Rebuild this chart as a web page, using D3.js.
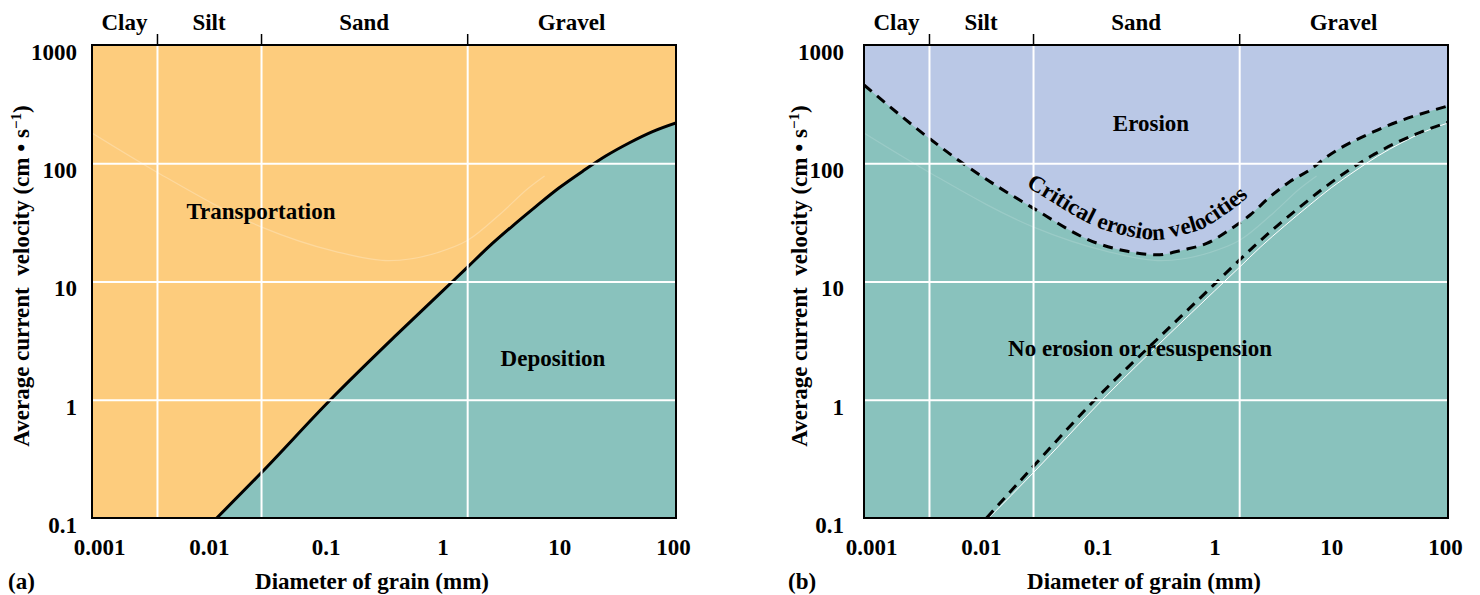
<!DOCTYPE html>
<html><head><meta charset="utf-8">
<script src="https://cdn.jsdelivr.net/npm/d3@7"></script>
<style>
body{margin:0;background:#fff;}
svg text{font-family:"Liberation Serif","Times New Roman",serif;font-weight:bold;fill:#000;font-size:23px;}
</style></head><body>
<svg id="chart" width="1480" height="595"></svg>
<script>
// ---------- data ----------
const grainCategories = ["Clay", "Silt", "Sand", "Gravel"];
const grainBoundaries = [0.0036, 0.028, 1.63];          // mm
const xTickValues = [0.001, 0.01, 0.1, 1, 10, 100];
const xTickLabels = ["0.001", "0.01", "0.1", "1", "10", "100"];
const yTickValues = [0.1, 1, 10, 100, 1000];
const yTickLabels = ["0.1", "1", "10", "100", "1000"];
const yGridValues = [1, 10, 100];

// deposition curve (panel a solid line, panel b thin white line)
const depositionDiameter = [0.0117, 0.028, 0.11, 0.4, 1, 1.6, 2.5, 4, 6.3, 10, 16, 25, 40, 63, 100];
const depositionVelocity = [0.1, 0.24, 1, 3.5, 8.3, 12.9, 19.7, 29.6, 43, 62, 86, 115, 149, 185, 219];
// panel b lower dashed curve
const settlingDiameter = [0.0112, 0.025, 0.095, 0.35, 0.87, 1.38, 2.17, 3.45, 5.45, 8.7, 13.8, 22, 36, 60, 100];
const settlingVelocity = [0.1, 0.24, 1, 3.5, 8.3, 12.9, 19.7, 29.6, 43, 62, 86, 115, 149, 185, 222];
// critical erosion velocities (panel b upper dashed)
const erosionDiameter = [0.001, 0.0036, 0.007, 0.0267, 0.1, 0.18, 0.321, 0.542, 0.859, 1.41, 2.02, 2.99, 4.44, 6.58, 9.14, 24.9, 100];
const erosionVelocity = [459, 163, 100, 43, 21, 18, 16.8, 18.5, 21, 28.2, 36.5, 52, 70, 88, 113, 191, 305];
// faint background curve
const faintDiameter = [0.001, 0.0036, 0.028, 0.12, 0.35, 0.9, 1.66, 3.2, 5.5, 7.5];
const faintVelocity = [180, 84, 29, 18, 15, 17.5, 22.4, 38, 62, 78];

// ---------- styling ----------
const YELLOW = "#FDCC7D", TEAL = "#89C2BD", BLUE = "#BAC8E6";
const svg = d3.select("#chart");
const W = 584, H = 473, TOP = 45;
const CURVE = d3.curveMonotoneX;

const zip = (a, b) => a.map((v, i) => [v, b[i]]);

function panel(left, id, letter, letterX, yTitleX, tickGap) {
  const g = svg.append("g").attr("transform", `translate(${left},${TOP})`);
  const x = d3.scaleLog().domain([0.001, 100]).range([0, W]);
  const y = d3.scaleLog().domain([0.1, 1000]).range([H, 0]);
  g.append("clipPath").attr("id", "clip" + id).append("rect").attr("width", W).attr("height", H);
  const plot = g.append("g").attr("clip-path", `url(#clip${id})`);
  const line = d3.line().x(d => x(d[0])).y(d => y(d[1])).curve(CURVE);
  return { g, x, y, plot, line, left, id, letter, letterX, yTitleX, tickGap };
}

function decorate(p) {
  const { g, x, y } = p;
  g.append("g")
    .call(d3.axisBottom(x).tickValues(grainBoundaries).tickSize(H).tickFormat(""))
    .call(s => s.select(".domain").remove())
    .selectAll("line").attr("stroke", "#fff").attr("stroke-width", 2);
  g.append("g")
    .call(d3.axisLeft(y).tickValues(yGridValues).tickSize(-W).tickFormat(""))
    .call(s => s.select(".domain").remove())
    .selectAll("line").attr("stroke", "#fff").attr("stroke-width", 2);
}

function frame(p) {
  const { g, x, y, left, yTitleX, tickGap, letter, letterX } = p;
  g.append("rect").attr("width", W).attr("height", H).attr("fill", "none")
    .attr("stroke", "#000").attr("stroke-width", 2);
  g.append("g").call(d3.axisTop(x).tickValues(grainBoundaries).tickSize(11).tickFormat(""))
    .call(s => s.select(".domain").remove())
    .selectAll("line").attr("stroke", "#000").attr("stroke-width", 1.5);
  const edges = [0.001, ...grainBoundaries, 100];
  g.selectAll(".cat").data(grainCategories).join("text")
    .attr("x", (d, i) => (x(edges[i]) + x(edges[i + 1])) / 2)
    .attr("y", -15).attr("text-anchor", "middle").text(d => d);
  const xa = g.append("g").attr("transform", `translate(0,${H})`)
    .call(d3.axisBottom(x).tickValues(xTickValues).tickSize(0).tickPadding(21)
      .tickFormat((d, i) => xTickLabels[i]));
  xa.select(".domain").remove();
  xa.selectAll("text").attr("dx", (d, i) => i === 0 ? 7 : (i === xTickValues.length - 1 ? -3 : 0));
  const ya = g.append("g")
    .call(d3.axisLeft(y).tickValues(yTickValues).tickSize(0).tickPadding(tickGap)
      .tickFormat((d, i) => yTickLabels[i]));
  ya.select(".domain").remove();
  ya.selectAll("text").attr("dy", "0.62em");
  g.append("text").attr("x", W / 2 - 12).attr("y", 544).attr("text-anchor", "middle")
    .text("Diameter of grain (mm)");
  g.append("text").attr("x", letterX - left).attr("y", 544).text(letter);
  const yt = g.append("text").attr("transform", `translate(${yTitleX - left},${231}) rotate(-90)`)
    .attr("text-anchor", "middle").style("white-space", "pre");
  yt.append("tspan").text("Average current  velocity (cm \u2022 s");
  yt.append("tspan").attr("dy", -8).attr("font-size", "15px").text("\u22121");
  yt.append("tspan").attr("dy", 8).text(")");
}

// ---------- panel (a) ----------
const a = panel(92, "a", "(a)", 8, 29, 15);
a.plot.append("rect").attr("width", W).attr("height", H).attr("fill", YELLOW);
a.plot.append("path").attr("d", a.line(zip(faintDiameter, faintVelocity)))
  .attr("fill", "none").attr("stroke", "#fff").attr("stroke-opacity", 0.25).attr("stroke-width", 1.2);
const depA = zip(depositionDiameter, depositionVelocity);
a.plot.append("path")
  .attr("d", d3.area().x(d => a.x(d[0])).y0(H).y1(d => a.y(d[1])).curve(CURVE)(depA))
  .attr("fill", TEAL);
decorate(a);
a.plot.append("path").attr("d", a.line(depA)).attr("fill", "none")
  .attr("stroke", "#000").attr("stroke-width", 3);
a.g.append("text").attr("x", 261 - 92).attr("y", 219 - TOP).attr("text-anchor", "middle").text("Transportation");
a.g.append("text").attr("x", 553 - 92).attr("y", 366 - TOP).attr("text-anchor", "middle").text("Deposition");
frame(a);

// ---------- panel (b) ----------
const b = panel(864, "b", "(b)", 788, 807, 20);
b.plot.append("rect").attr("width", W).attr("height", H).attr("fill", TEAL);
b.plot.append("path").attr("d", b.line(zip(faintDiameter, faintVelocity)))
  .attr("fill", "none").attr("stroke", "#fff").attr("stroke-opacity", 0.15).attr("stroke-width", 1.2);
const ero = zip(erosionDiameter, erosionVelocity);
b.plot.append("path")
  .attr("d", d3.area().x(d => b.x(d[0])).y0(0).y1(d => b.y(d[1])).curve(CURVE)(ero))
  .attr("fill", BLUE);
decorate(b);
b.plot.append("path").attr("d", b.line(zip(depositionDiameter, depositionVelocity)))
  .attr("fill", "none").attr("stroke", "#fff").attr("stroke-width", 1);
b.plot.append("path").attr("d", b.line(zip(settlingDiameter, settlingVelocity)))
  .attr("fill", "none").attr("stroke", "#000").attr("stroke-width", 3).attr("stroke-dasharray", "10,7");
b.plot.append("path").attr("d", b.line(ero))
  .attr("fill", "none").attr("stroke", "#000").attr("stroke-width", 3).attr("stroke-dasharray", "10,7");

// curved label: path parallel to the erosion curve (normal offset)
const guide = b.g.append("path").attr("d", b.line(ero)).attr("fill", "none").attr("stroke", "none");
const gn = guide.node(), total = gn.getTotalLength();
const startX = b.x(0.012), endX = b.x(4.5);
const samples = [];
for (let i = 0; i <= 400; i++) {
  const L = total * i / 400;
  const p = gn.getPointAtLength(L);
  if (p.x < startX || p.x > endX) continue;
  const p1 = gn.getPointAtLength(Math.max(0, L - 3)), p2 = gn.getPointAtLength(Math.min(total, L + 3));
  const dx = p2.x - p1.x, dy = p2.y - p1.y, len = Math.hypot(dx, dy) || 1;
  const off = 15;
  samples.push([p.x + (dy / len) * off, p.y - (dx / len) * off]);
}
b.g.append("path").attr("id", "critPath")
  .attr("d", d3.line().curve(d3.curveBasis)(samples)).attr("fill", "none");
b.g.append("text").append("textPath").attr("href", "#critPath")
  .attr("startOffset", "48%").attr("text-anchor", "middle").text("Critical erosion velocities");
guide.remove();

b.g.append("text").attr("x", 1151 - 864).attr("y", 131 - TOP).attr("text-anchor", "middle").text("Erosion");
b.g.append("text").attr("x", 1140 - 864).attr("y", 356 - TOP).attr("text-anchor", "middle").text("No erosion or resuspension");
frame(b);
</script>
</body></html>
